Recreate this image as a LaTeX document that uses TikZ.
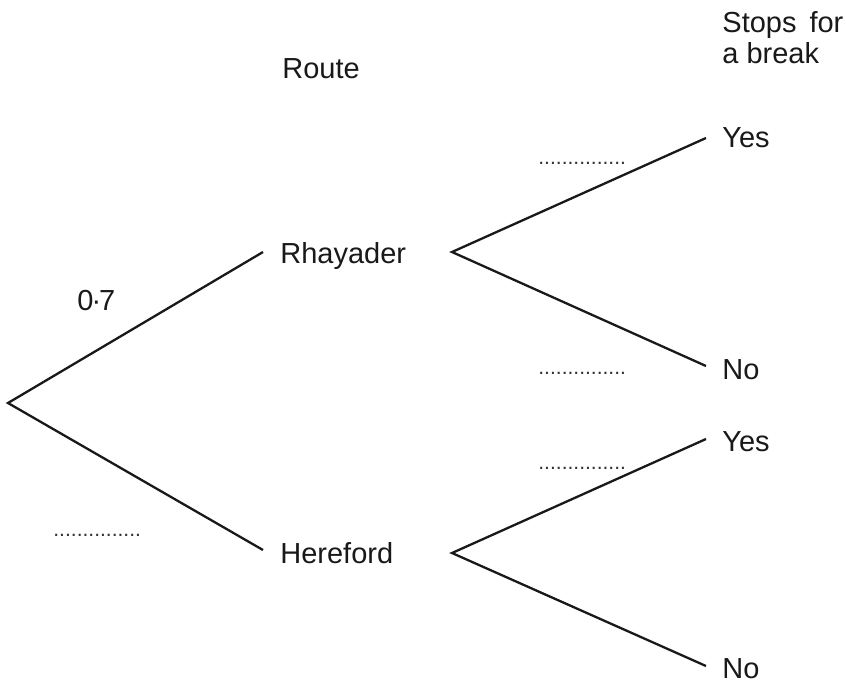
\documentclass[tikz,border=0pt]{standalone}
\usepackage{fontspec}
\setmainfont{Liberation Sans}
\begin{document}
\begin{tikzpicture}[x=0.5pt,y=-0.5pt,
  lbl/.style={inner sep=0pt,anchor=base west,font=\fontsize{14.5pt}{17pt}\selectfont,text=black!90},
  dots/.style={inner sep=0pt,anchor=base west,font=\fontsize{10.5pt}{12pt}\selectfont,text=black!80},
  br/.style={line width=1.15pt,black!90}]
\useasboundingbox (0,0) rectangle (846,687);
\coordinate (root) at (8,403);
\coordinate (rEnd) at (263,252);
\coordinate (hEnd) at (263,550);
\coordinate (rStart) at (452,252);
\coordinate (hStart) at (452,553);
\coordinate (ry) at (706,138);
\coordinate (rn) at (706,366);
\coordinate (hy) at (706,439);
\coordinate (hn) at (706,666);
\node[lbl] (route) at (282,78) {Route};
\node[lbl] (stops) at (722,32) {Stops\hspace{6.5pt}for};
\node[lbl] (brk) at (722,63) {a break};
\node[lbl] (rh) at (280,263) {Rhayader};
\node[lbl] (he) at (280,563) {Hereford};
\node[lbl] (y1) at (722,147) {Yes};
\node[lbl] (n1) at (722,379) {No};
\node[lbl] (y2) at (722,451) {Yes};
\node[lbl] (n2) at (722,678) {No};
\node[lbl] (p) at (77,310) {0\kern-1pt·\kern-1pt7};
\node[dots] (d1) at (538,164) {...............};
\node[dots] (d2) at (538,374) {...............};
\node[dots] (d3) at (538,469) {...............};
\node[dots] (d4) at (53,536) {...............};
\draw[br] (rEnd) -- (root) -- (hEnd);
\draw[br] (ry) -- (rStart) -- (rn);
\draw[br] (hy) -- (hStart) -- (hn);
\end{tikzpicture}
\end{document}
